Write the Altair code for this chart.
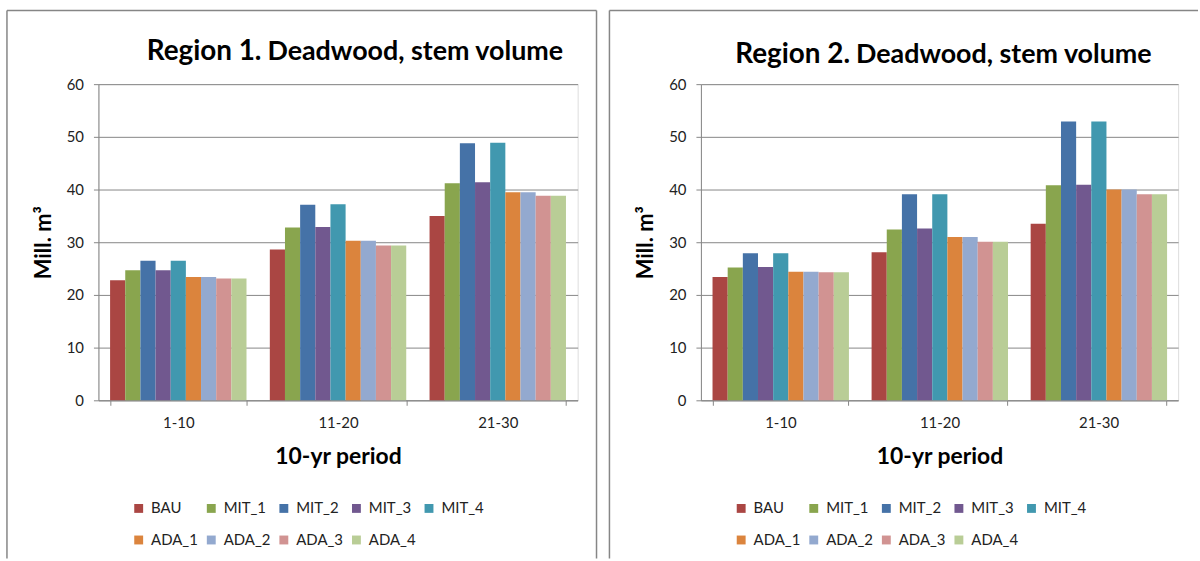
import altair as alt
import pandas as pd

periods = ["1-10", "11-20", "21-30"]
scenarios = ["BAU", "MIT_1", "MIT_2", "MIT_3", "MIT_4", "ADA_1", "ADA_2", "ADA_3", "ADA_4"]
colors = ["#AA4643", "#89A54E", "#4572A7", "#71588F", "#4198AF",
          "#DB843D", "#93A9CF", "#D19392", "#B9CD96"]

r1_p1 = [22.8, 24.7, 26.5, 24.7, 26.5, 23.4, 23.4, 23.1, 23.1]
r1_p2 = [28.6, 32.8, 37.1, 32.9, 37.2, 30.3, 30.3, 29.4, 29.4]
r1_p3 = [35.0, 41.2, 48.8, 41.4, 48.9, 39.5, 39.5, 38.8, 38.8]

r2_p1 = [23.4, 25.2, 27.9, 25.3, 27.9, 24.4, 24.4, 24.3, 24.3]
r2_p2 = [28.1, 32.4, 39.1, 32.6, 39.1, 31.0, 31.0, 30.1, 30.1]
r2_p3 = [33.5, 40.8, 52.9, 40.9, 52.9, 40.0, 40.0, 39.1, 39.1]

FONT = "Lato"
GRAY = "#868686"


def make_df(series):
    rows = []
    for p, vals in zip(periods, series):
        for s, v in zip(scenarios, vals):
            rows.append({"period": p, "scenario": s, "value": v})
    return pd.DataFrame(rows)


def panel(series, region_label, title_pos, width, frame_right):
    df = make_df(series)
    bars = alt.Chart(df).mark_bar(strokeWidth=0).encode(
        x=alt.X("period:N", sort=periods,
                scale=alt.Scale(paddingInner=0.146, paddingOuter=0.073),
                axis=alt.Axis(title="10-yr period", labelAngle=0, tickBand="extent",
                              tickSize=5, labelPadding=10, titlePadding=16,
                              domainColor=GRAY, tickColor=GRAY, grid=False,
                              labelFont=FONT, labelFontSize=15, labelColor="#222",
                              titleFont=FONT, titleFontSize=23, titleFontWeight="bold",
                              titleColor="#000")),
        xOffset=alt.XOffset("scenario:N", sort=scenarios,
                            scale=alt.Scale(paddingInner=0, paddingOuter=0)),
        y=alt.Y("value:Q", scale=alt.Scale(domain=[0, 60], nice=False),
                axis=alt.Axis(title="Mill. m³", values=[0, 10, 20, 30, 40, 50, 60],
                              tickSize=5, labelPadding=10, titlePadding=11,
                              domainColor=GRAY, tickColor=GRAY, gridColor=GRAY,
                              labelFont=FONT, labelFontSize=15, labelColor="#222",
                              titleFont=FONT, titleFontSize=22, titleFontWeight="bold",
                              titleColor="#000")),
        color=alt.Color("scenario:N", sort=scenarios,
                        scale=alt.Scale(domain=scenarios, range=colors),
                        legend=alt.Legend(title=None, orient="none", legendX=33, legendY=419,
                                          columns=5, direction="horizontal",
                                          symbolType="square", symbolSize=80,
                                          symbolStrokeWidth=0, labelOffset=5,
                                          columnPadding=5, rowPadding=16,
                                          labelFont=FONT, labelFontSize=15,
                                          labelColor="#222")),
    )

    one = pd.DataFrame({"k": [0]})
    rx, dx, ty = title_pos
    t1 = alt.Chart(pd.DataFrame({"t": [region_label]})).mark_text(
        align="right", baseline="alphabetic", font=FONT, fontSize=28,
        fontWeight="bold", color="#000"
    ).encode(text="t:N", x=alt.value(rx), y=alt.value(ty))
    t2 = alt.Chart(pd.DataFrame({"t": ["Deadwood, stem volume"]})).mark_text(
        align="left", baseline="alphabetic", font=FONT, fontSize=27,
        fontWeight="bold", color="#000"
    ).encode(text="t:N", x=alt.value(dx), y=alt.value(ty))

    layers = [bars, t1, t2]
    # frame lines around panel
    left_x = -92
    top_y = -74
    bottom_y = 477
    layers.append(alt.Chart(one).mark_rule(color=GRAY, strokeWidth=1.5).encode(
        x=alt.value(left_x), y=alt.value(top_y), y2=alt.value(bottom_y)))
    right_x = frame_right if frame_right is not None else width + 20
    layers.append(alt.Chart(one).mark_rule(color=GRAY, strokeWidth=1.5).encode(
        x=alt.value(left_x), x2=alt.value(right_x), y=alt.value(top_y)))
    if frame_right is not None:
        layers.append(alt.Chart(one).mark_rule(color=GRAY, strokeWidth=1.5).encode(
            x=alt.value(frame_right), y=alt.value(top_y), y2=alt.value(bottom_y)))

    return alt.layer(*layers).properties(width=width, height=318)


left = panel([r1_p1, r1_p2, r1_p3], "Region 1.", (164, 170, -24), 482, 501)
right = panel([r2_p1, r2_p2, r2_p3], "Region 2.", (150, 156, -21), 480, None)

chart = alt.hconcat(left, right, spacing=9).resolve_scale(
    color="independent"
).resolve_legend(color="independent").properties(
    padding={"left": 5, "top": 7, "right": 0, "bottom": 0}
).configure_view(stroke=None).configure(background="white")

chart.save("out.html", embed_options={"renderer": "svg", "actions": False})
